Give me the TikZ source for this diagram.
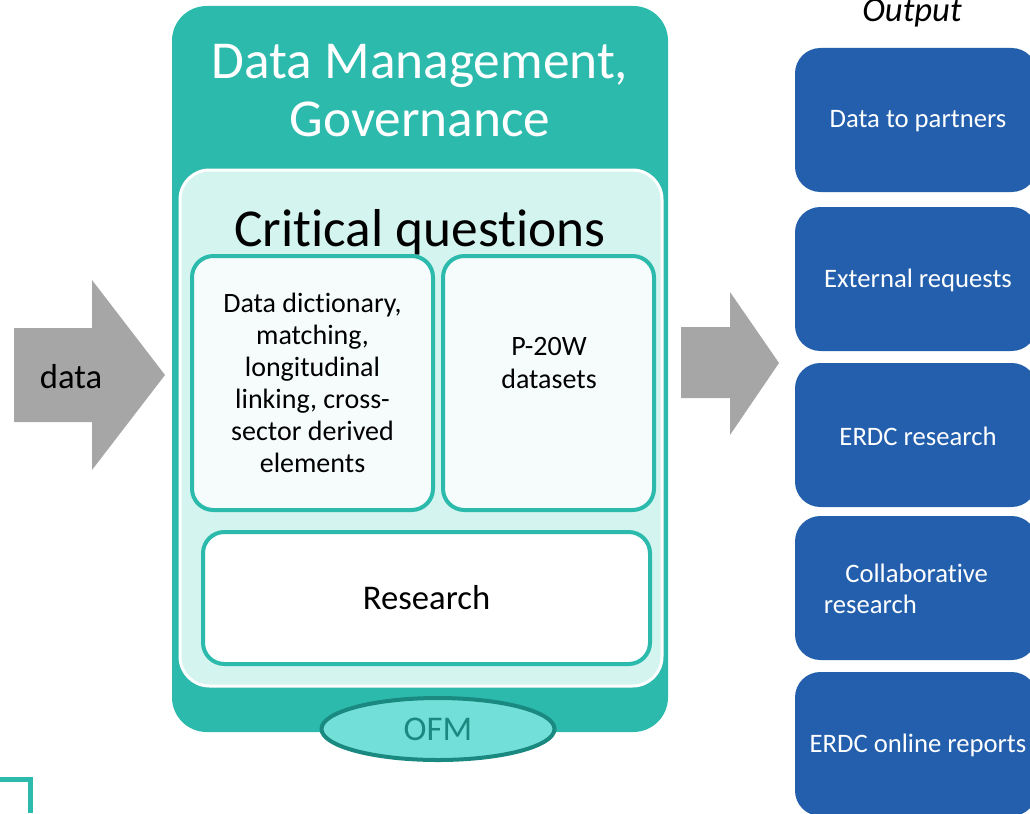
\documentclass[tikz,border=0pt]{standalone}
\usepackage{fontspec}
\setmainfont{Carlito}
\usetikzlibrary{shapes.geometric}
\definecolor{tealbox}{RGB}{43,186,172}
\definecolor{tealpale}{RGB}{212,244,240}
\definecolor{tealsub}{RGB}{246,252,252}
\definecolor{ofmfill}{RGB}{114,224,216}
\definecolor{ofmline}{RGB}{26,138,128}
\definecolor{outblue}{RGB}{35,95,172}
\definecolor{arrowgray}{RGB}{166,166,166}
\begin{document}
\begin{tikzpicture}[x=0.75pt,y=-0.75pt,
        outer/.style={rectangle,rounded corners=26pt,fill=tealbox,minimum width=372pt,minimum height=544.5pt},
        inner/.style={rectangle,rounded corners=22pt,draw=white,line width=2.25pt,fill=tealpale,minimum width=361.5pt,minimum height=387pt},
        sub/.style={rectangle,rounded corners=16pt,draw=tealbox,line width=3pt,fill=tealsub,minimum height=190.5pt},
        outbox/.style={rectangle,rounded corners=19pt,fill=outblue,text=white,minimum width=181.5pt,minimum height=108pt,font=\fontsize{20}{23}\selectfont},
        bigarrow/.style={fill=arrowgray}
      ]
      \useasboundingbox (0,0) rectangle (1030,813);
      % main block
      \node[outer] (dm) at (420,369) {};
      \node[text=white,align=center,font=\fontsize{40}{43.5}\selectfont] (dmtitle) at (420,91) {Data Management,\\Governance};
      \node[inner] (cq) at (421,428) {};
      \node[font=\fontsize{40}{44}\selectfont] (cqtitle) at (420,232) {Crit\kern0pt ical quest\kern0pt ions};
      \node[sub,minimum width=180.75pt,align=center,font=\fontsize{21}{24}\selectfont] (dict) at (312.5,383) {Data dict\kern0pt ionary,\\matching,\\longitudinal\\linking, cross-\\sector derived\\elements};
      \node[sub,minimum width=158.25pt] (p20) at (548.5,383) {};
      \node[align=center,font=\fontsize{21}{24.75}\selectfont] (p20text) at (549,363) {P-20W\\datasets};
      \node[sub,fill=white,minimum width=335.25pt,minimum height=99pt,font=\fontsize{26}{30}\selectfont] (res) at (426.5,598) {Research};
      \node[ellipse,draw=ofmline,line width=3pt,fill=ofmfill,text=ofmline,minimum width=174.75pt,minimum height=46.5pt,inner sep=0pt,font=\fontsize{26}{30}\selectfont] (ofm) at (438,729) {OFM};
      % arrows
      \fill[bigarrow] (14,328) -- (92,328) -- (92,280) -- (165,375) -- (92,470) -- (92,422) -- (14,422) -- cycle;
      \node[font=\fontsize{26}{30}\selectfont] (data) at (71,377) {data};
      \fill[bigarrow] (681,327) -- (730,327) -- (730,292) -- (779,363) -- (730,435) -- (730,398) -- (681,398) -- cycle;
      % outputs
      \node[font=\itshape\fontsize{26}{30}\selectfont] (output) at (912,13) {Output};
      \node[outbox] (partners) at (916,120) {};
      \node[text=white,font=\fontsize{20}{23}\selectfont] (partnerstext) at (918,121) {Data to partners};
      \node[outbox] (external) at (916,279) {};
      \node[text=white,font=\fontsize{20}{23}\selectfont] (externaltext) at (918,280) {External requests};
      \node[outbox] (erdc) at (916,435) {};
      \node[text=white,font=\fontsize{20}{23}\selectfont] (erdctext) at (918,436) {ERDC research};
      \node[outbox] (collab) at (916,588) {};
      \node[text=white,align=left,font=\fontsize{20}{23}\selectfont] (collabtext) at (906,589) {\hspace{16pt}Collaborat\kern0pt ive\\research};
      \node[outbox] (online) at (916,744) {};
      \node[text=white,font=\fontsize{20}{23}\selectfont] (onlinetext) at (918,745) {ERDC online reports};
      % corner mark
      \draw[tealbox,line width=3.75pt] (0,779) -- (30,779) -- (30,813);
\end{tikzpicture}
\end{document}
